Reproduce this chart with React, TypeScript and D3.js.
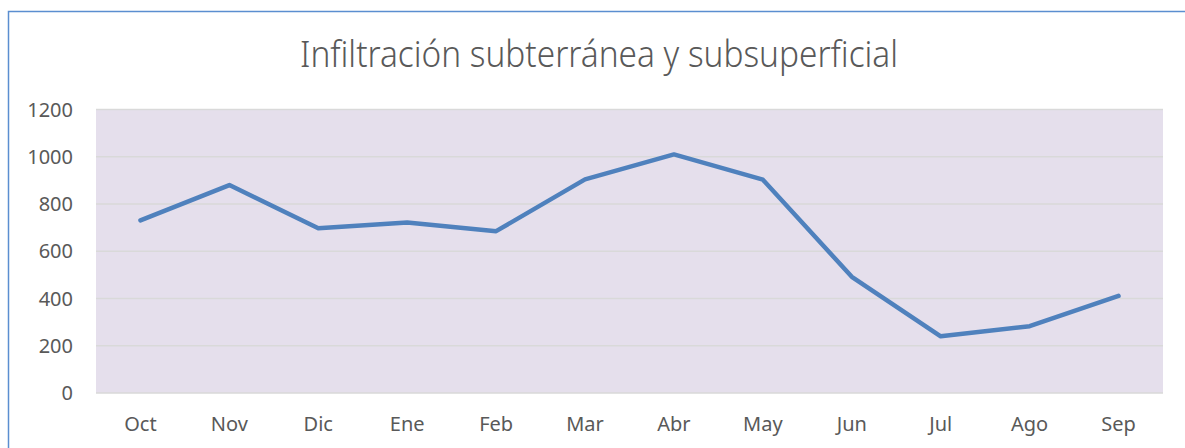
import React, { useEffect, useRef } from 'react';
import * as d3 from 'd3';

const months = ['Oct', 'Nov', 'Dic', 'Ene', 'Feb', 'Mar', 'Abr', 'May', 'Jun', 'Jul', 'Ago', 'Sep'];
const infiltracion = [731, 880, 697, 722, 685, 904, 1010, 903, 492, 240, 283, 411];
const yTicks = [0, 200, 400, 600, 800, 1000, 1200];
const title = 'Infiltración subterránea y subsuperficial';

const W = 1185;
const H = 448;

export default function App() {
  const svgRef = useRef<SVGSVGElement>(null);

  useEffect(() => {
    if (!svgRef.current) return;
    const svg = d3.select(svgRef.current);
    svg.selectAll('*').remove();

    const margin = { top: 109.5, right: 22, bottom: 55, left: 96 };
    const plotW = W - margin.left - margin.right;
    const plotH = H - margin.top - margin.bottom;
    const font = "'Noto Sans', 'Open Sans', sans-serif";

    // chart frame
    svg.append('rect')
      .attr('x', 8.5)
      .attr('y', 11.5)
      .attr('width', 1300)
      .attr('height', 600)
      .attr('fill', '#fff')
      .attr('stroke', '#5b8ed0')
      .attr('stroke-width', 1.5);

    svg.append('text')
      .attr('x', 599)
      .attr('y', 67)
      .attr('text-anchor', 'middle')
      .attr('font-family', font)
      .attr('font-size', 36)
      .attr('font-weight', 300)
      .attr('fill', '#595959')
      .attr('textLength', 598)
      .attr('lengthAdjust', 'spacingAndGlyphs')
      .text(title);

    const g = svg.append('g').attr('transform', `translate(${margin.left},${margin.top})`);

    const x = d3.scaleBand<string>().domain(months).range([0, plotW]);
    const y = d3.scaleLinear().domain([0, 1200]).range([plotH, 0]);

    g.append('rect')
      .attr('width', plotW)
      .attr('height', plotH)
      .attr('fill', '#e5dfec');

    // gridlines
    g.selectAll('.grid')
      .data(yTicks)
      .enter()
      .append('line')
      .attr('x1', 0)
      .attr('x2', plotW)
      .attr('y1', d => y(d))
      .attr('y2', d => y(d))
      .attr('stroke', '#d9d9d9')
      .attr('stroke-width', 1.5);

    // y labels
    g.selectAll('.ylab')
      .data(yTicks)
      .enter()
      .append('text')
      .attr('x', -23)
      .attr('y', d => y(d))
      .attr('dy', '0.36em')
      .attr('text-anchor', 'end')
      .attr('font-family', font)
      .attr('font-size', 20)
      .attr('fill', '#595959')
      .text(d => d);

    // x labels
    g.selectAll('.xlab')
      .data(months)
      .enter()
      .append('text')
      .attr('x', d => (x(d) ?? 0) + x.bandwidth() / 2)
      .attr('y', plotH + 31)
      .attr('dy', '0.36em')
      .attr('text-anchor', 'middle')
      .attr('font-family', font)
      .attr('font-size', 20)
      .attr('fill', '#595959')
      .text(d => d);

    const line = d3.line<number>()
      .x((_, i) => (x(months[i]) ?? 0) + x.bandwidth() / 2)
      .y(d => y(d));

    g.append('path')
      .datum(infiltracion)
      .attr('d', line)
      .attr('fill', 'none')
      .attr('stroke', '#4f81bd')
      .attr('stroke-width', 4.5)
      .attr('stroke-linejoin', 'round')
      .attr('stroke-linecap', 'round');
  }, []);

  return (
    <svg
      ref={svgRef}
      width={W}
      height={H}
      style={{ position: 'absolute', left: 0, top: 0, display: 'block' }}
    />
  );
}
